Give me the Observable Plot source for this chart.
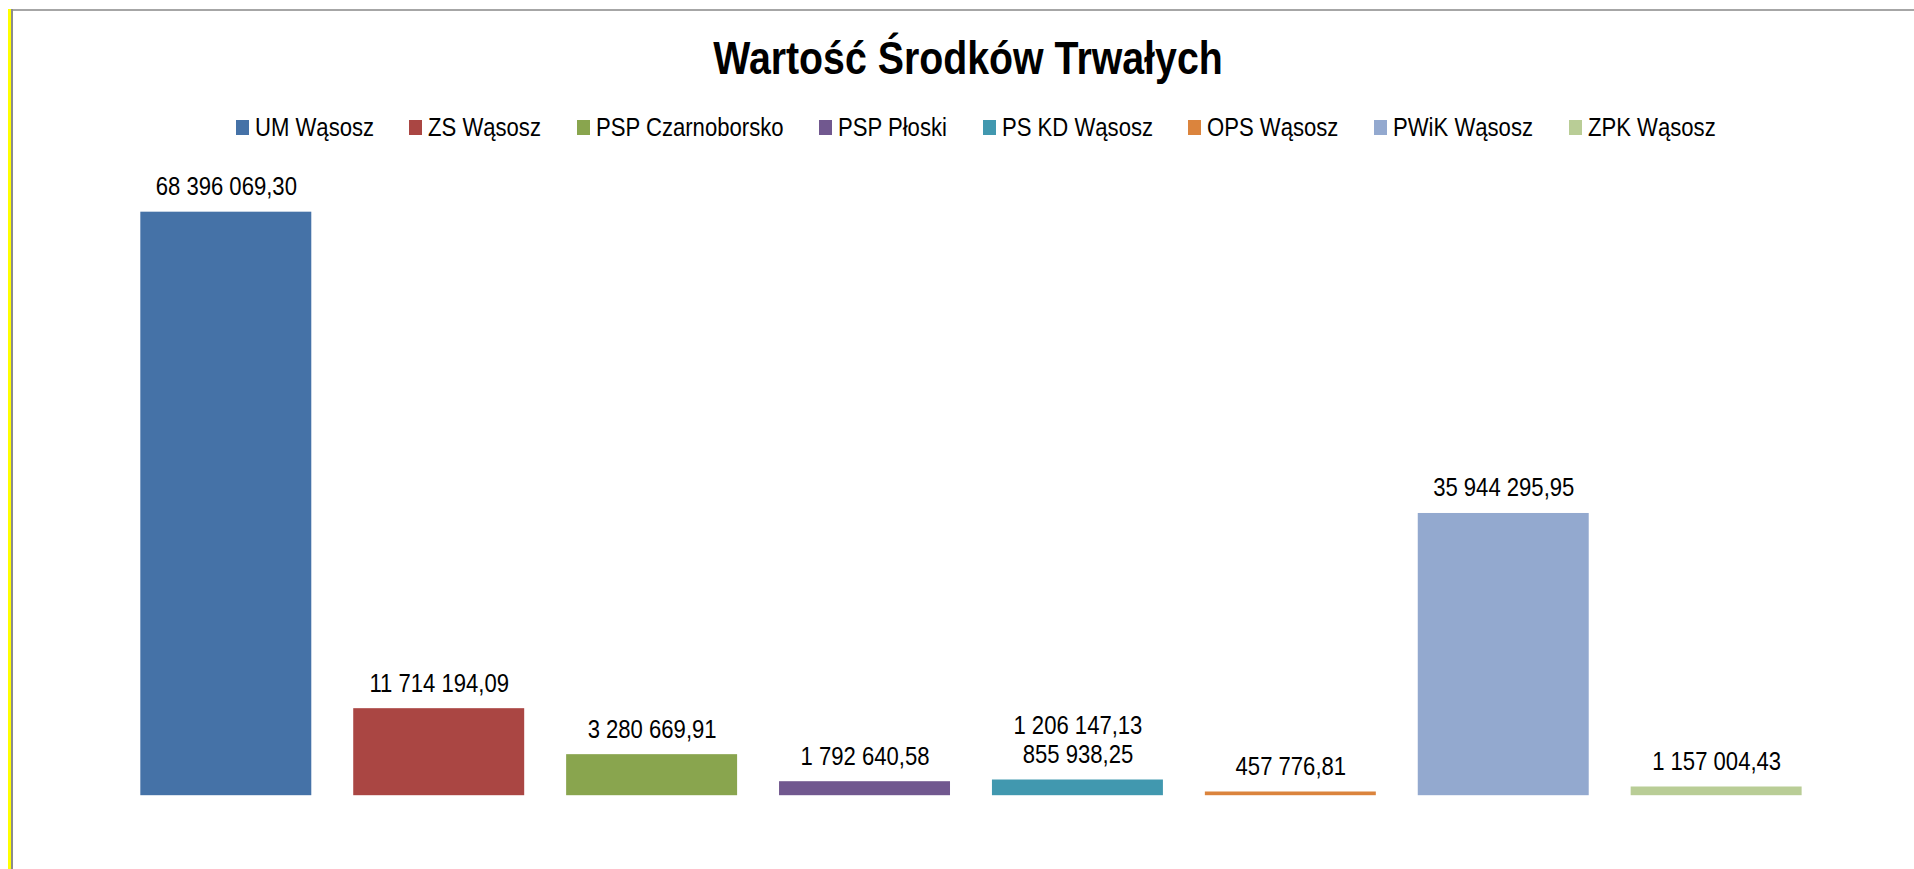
<!DOCTYPE html>
<html>
<head>
<meta charset="utf-8">
<script src="https://cdn.jsdelivr.net/npm/d3@7"></script>
<script src="https://cdn.jsdelivr.net/npm/@observablehq/plot@0.6"></script>
<style>
  html, body { margin: 0; padding: 0; background: #ffffff; width: 1914px; height: 869px; overflow: hidden; }
  body { position: relative; font-family: "Liberation Sans", Arial, sans-serif; }
  #header { position: relative; width: 1914px; height: 150px; }
  #title { position: absolute; left: 11px; width: 1914px; top: 35.4px; font-size: 46.5px; line-height: 46px; font-weight: bold; text-align: center; color: #000; transform: scaleX(0.845); transform-origin: center; white-space: nowrap; }
  #legend { position: absolute; left: 235.6px; top: 114.2px; height: 26px; display: flex; align-items: center; gap: 35.5px; }
  .item { display: flex; align-items: center; height: 26px; }
  .swatch { width: 13px; height: 15px; margin-right: 6px; flex: none; }
  .lbl { display: inline-block; font-size: 26px; line-height: 26px; color: #000; white-space: nowrap; overflow: visible; }
  .lbl span { display: inline-block; transform: scaleX(0.85); transform-origin: left center; }
  #frameLeftY { position: absolute; left: 8px; top: 9.3px; width: 2.7px; bottom: 0; background: #ffff00; }
  #frameLeftG { position: absolute; left: 10.7px; top: 9.3px; width: 2.7px; bottom: 0; background: #8c8c8c; }
  #frameTop { position: absolute; left: 10.7px; right: 0; top: 9.3px; height: 1.7px; background: #a6a6a6; }
  #chart { position: relative; }
</style>
</head>
<body>
<div id="header">
  <div id="title">Wartość Środków Trwałych</div>
  <div id="legend"></div>
</div>
<div id="chart"></div>
<div id="frameTop"></div>
<div id="frameLeftY"></div>
<div id="frameLeftG"></div>
<script>
const categories = ["UM Wąsosz", "ZS Wąsosz", "PSP Czarnoborsko", "PSP Płoski", "PS KD Wąsosz", "OPS Wąsosz", "PWiK Wąsosz", "ZPK Wąsosz"];
// bar heights as drawn in the picture (zł)
const barValues = [68396069.30, 10200000, 4810000, 1640000, 1840000, 434000, 33080000, 1020000];
// data labels as printed in the picture
const valueLabels = ["68 396 069,30", "11 714 194,09", "3 280 669,91", "1 792 640,58", "1 206 147,13\n855 938,25", "457 776,81", "35 944 295,95", "1 157 004,43"];
const colors = ["#4572A7", "#AA4643", "#89A54E", "#71588F", "#4198AF", "#DB843D", "#93A9CF", "#B9CD96"];

const data = categories.map((name, i) => ({name, value: barValues[i], label: valueLabels[i]}));

// Legend
const canvas = document.createElement("canvas");
const ctx = canvas.getContext("2d");
ctx.font = '26px "Liberation Sans", Arial, sans-serif';
const legend = document.getElementById("legend");
categories.forEach((name, i) => {
  const item = document.createElement("div");
  item.className = "item";
  const sw = document.createElement("div");
  sw.className = "swatch";
  sw.style.background = colors[i];
  const lbl = document.createElement("div");
  lbl.className = "lbl";
  lbl.style.width = (ctx.measureText(name).width * 0.85) + "px";
  const inner = document.createElement("span");
  inner.textContent = name;
  lbl.appendChild(inner);
  item.appendChild(sw);
  item.appendChild(lbl);
  legend.appendChild(item);
});

const chart = Plot.plot({
  width: 1914,
  height: 719,
  marginLeft: 119.35,
  marginRight: 91.4,
  marginTop: 48,
  marginBottom: 73.8,
  style: {fontFamily: '"Liberation Sans", Arial, sans-serif', background: "transparent", overflow: "visible"},
  x: {type: "band", domain: categories, paddingInner: 0.197, paddingOuter: 0.0985, round: false, axis: null},
  y: {domain: [0, 70000000], axis: null},
  color: {domain: categories, range: colors},
  marks: [
    Plot.barY(data, {x: "name", y: "value", fill: "name"}),
    Plot.text(data, {x: "name", y: "value", text: "label", dy: -17, lineAnchor: "bottom", fontSize: 26, lineHeight: 1.13, fill: "#000"})
  ]
});

chart.querySelectorAll("text").forEach(t => {
  const tr = t.getAttribute("transform");
  if (tr) {
    t.setAttribute("transform", tr + " scale(0.85,1)");
  } else {
    const x = +(t.getAttribute("x") || 0), y = +(t.getAttribute("y") || 0);
    t.setAttribute("transform", `translate(${x},${y}) scale(0.85,1) translate(${-x},${-y})`);
  }
});

document.getElementById("chart").appendChild(chart);
</script>
</body>
</html>
